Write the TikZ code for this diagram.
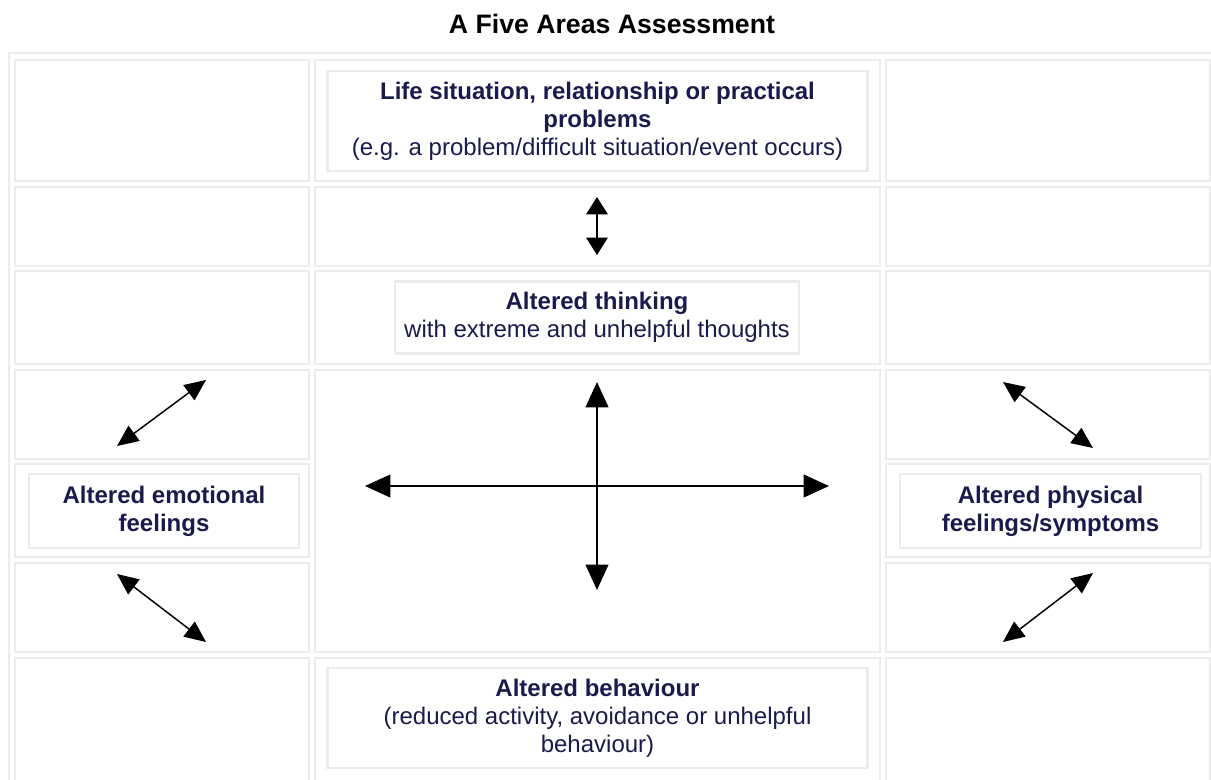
\documentclass[tikz,border=0pt]{standalone}
\usepackage{fontspec}
\setmainfont{Liberation Sans}
\usetikzlibrary{arrows.meta}
\definecolor{navy}{RGB}{26,26,76}
\definecolor{rulegray}{RGB}{236,236,236}
\tikzset{
  cell/.style={draw=rulegray,line width=1.1pt},
  box/.style={draw=rulegray,line width=1.6pt,text=navy,align=center,inner sep=0pt,
    font=\fontsize{18}{21}\selectfont},
  bigarrow/.style={line width=1.5pt,{Triangle[length=19pt,width=17pt]}-{Triangle[length=19pt,width=17pt]}},
  smallarrow/.style={line width=1.5pt,{Triangle[length=13pt,width=16pt]}-{Triangle[length=13pt,width=16pt]}},
  diagarrow/.style={line width=1.1pt,{Triangle[length=16pt,width=14pt]}-{Triangle[length=16pt,width=14pt]}}
}
\begin{document}
\begin{tikzpicture}[x=0.75pt,y=-0.75pt]
	\useasboundingbox (0,0) rectangle (1211,779);
	\clip (0,0) rectangle (1211,779);
	\node[font=\bfseries\fontsize{20}{24}\selectfont] (title) at (612,24) {A Five Areas Assessment};
	% table frame
	\draw[rulegray,line width=1.6pt] (9,800) -- (9,53) -- (1230,53);
	% side columns, every row
	\foreach \ya/\yb in {60/181,187/266,271/364,370/459,464/557,563/652,658/800}{
		\draw[cell] (15,\ya) rectangle (309,\yb);
		\draw[cell] (886,\ya) rectangle (1210,\yb);
	}
	% middle column, rows 4-6 merged
	\foreach \ya/\yb in {60/181,187/266,271/364,370/652,658/800}
		\draw[cell] (315,\ya) rectangle (880,\yb);
	% the five areas
	\node[box,minimum width=405pt,minimum height=75.5pt] (life) at (597.5,121) {\textbf{Life situation, relationship or practical}\\\textbf{problems}\\(e.g. a problem/difficult situation/event occurs)};
	\node[box,minimum width=303pt,minimum height=54pt] (thinking) at (597,317.5) {\textbf{Altered thinking}\\with extreme and unhelpful thoughts};
	\node[box,minimum width=202.5pt,minimum height=55.5pt] (emotion) at (164,511) {\textbf{Altered emotional}\\\textbf{feelings}};
	\node[box,minimum width=225.75pt,minimum height=55.5pt] (physical) at (1050.5,511) {\textbf{Altered physical}\\\textbf{feelings/symptoms}};
	\node[box,minimum width=405pt,minimum height=75pt] (behaviour) at (597.5,718) {\textbf{Altered behaviour}\\(reduced activity, avoidance or unhelpful\\behaviour)};
	% arrow ends
	\coordinate (lifeS) at (597,197);
	\coordinate (thinkN) at (597,255);
	\coordinate (crossN) at (597,382);
	\coordinate (crossS) at (597,590);
	\coordinate (crossW) at (365,486);
	\coordinate (crossE) at (829,486);
	\coordinate (emoUpA) at (206,380);
	\coordinate (emoUpB) at (117,446);
	\coordinate (emoDnA) at (117,574);
	\coordinate (emoDnB) at (206,642);
	\coordinate (phyUpA) at (1003,382);
	\coordinate (phyUpB) at (1093,448);
	\coordinate (phyDnA) at (1093,573);
	\coordinate (phyDnB) at (1003,642);
	\draw[smallarrow] (lifeS) -- (thinkN);
	\draw[bigarrow] (crossN) -- (crossS);
	\draw[bigarrow] (crossW) -- (crossE);
	\draw[diagarrow] (emoUpA) -- (emoUpB);
	\draw[diagarrow] (emoDnA) -- (emoDnB);
	\draw[diagarrow] (phyUpA) -- (phyUpB);
	\draw[diagarrow] (phyDnA) -- (phyDnB);
\end{tikzpicture}
\end{document}
